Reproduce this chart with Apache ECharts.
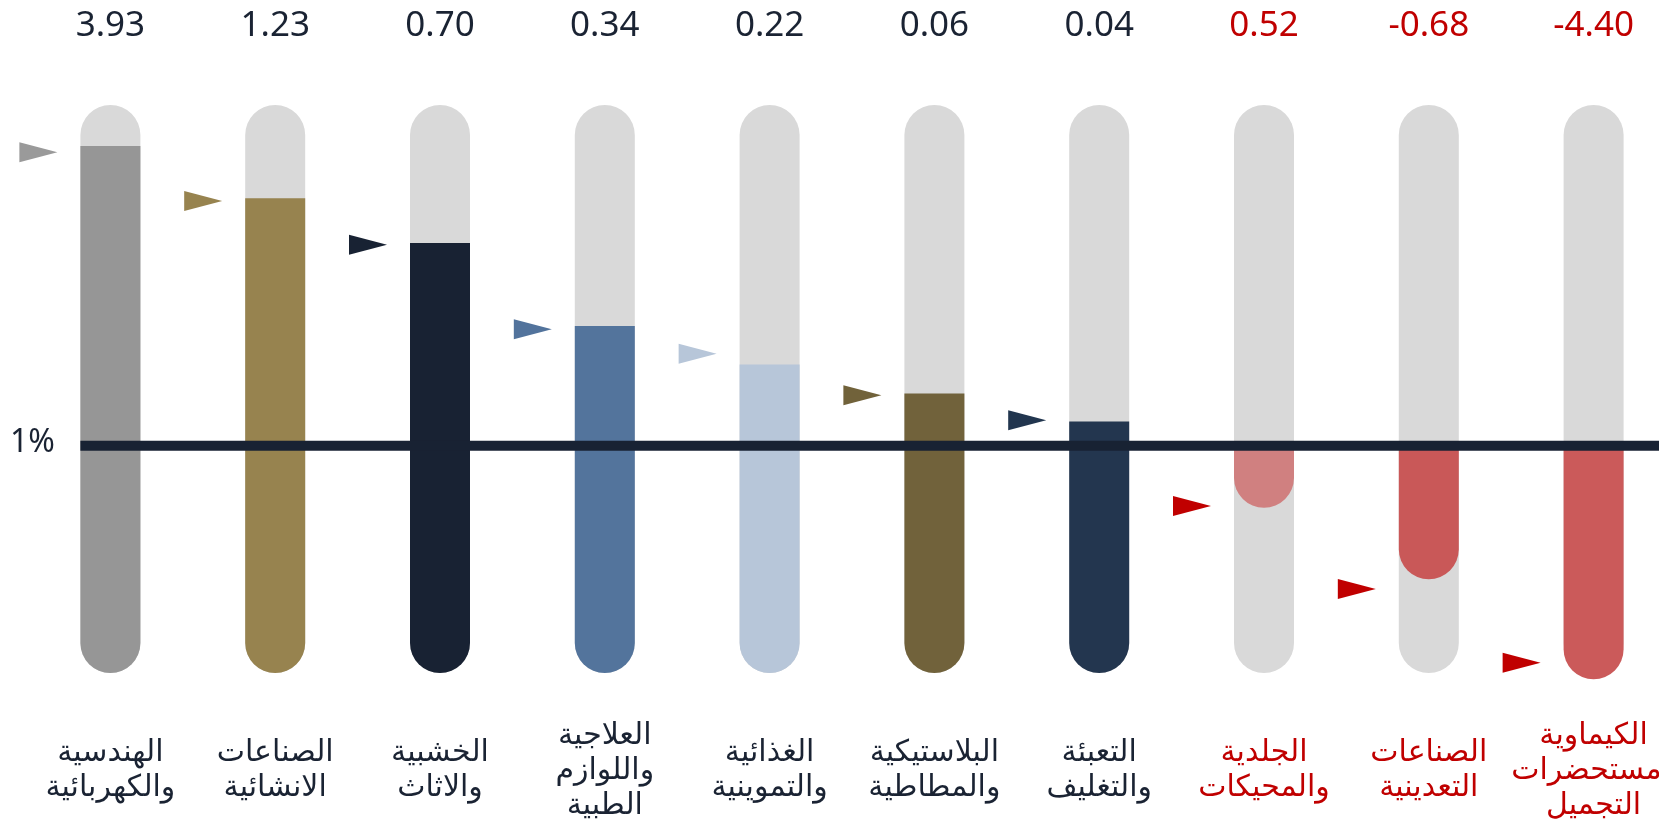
<!DOCTYPE html>
<html><head><meta charset="utf-8">
<script src="https://cdn.jsdelivr.net/npm/echarts@6/dist/echarts.min.js"></script>
<style>html,body{margin:0;padding:0;background:#fff}#c{width:1659px;height:827px}</style>
</head><body><div id="c"></div>
<script>
// ---- data ----
const categories = [
  'الهندسية\nوالكهربائية',
  'الصناعات\nالانشائية',
  'الخشبية\nوالاثاث',
  'العلاجية\nواللوازم\nالطبية',
  'الغذائية\nوالتموينية',
  'البلاستيكية\nوالمطاطية',
  'التعبئة\nوالتغليف',
  'الجلدية\nوالمحيكات',
  'الصناعات\nالتعدينية',
  'الكيماوية\nومستحضرات\nالتجميل'
];
const changeLabels = ['3.93', '1.23', '0.70', '0.34', '0.22', '0.06', '0.04', '0.52', '-0.68', '-4.40'];
const barValues = [6.28, 5.36, 4.57, 3.11, 2.43, 1.92, 1.43, -0.09, -1.35, -3.11];
const markerValues = [6.17, 5.31, 4.54, 3.05, 2.62, 1.89, 1.45, -0.06, -1.52, -2.82];
const redFlags = [false, false, false, false, false, false, false, true, true, true];
const baselineValue = 1;
const baselineLabel = '1%';
const axisMin = -3;
const axisMax = 7;

// ---- styles ----
const fillColors = ['#969696', '#97834f', '#182233', '#53749c', '#b7c6d9', '#71623b', '#23364f', '#d08080', '#c95858', '#cb5a5a'];
const markerColors = ['#9a9a9a', '#97834f', '#182233', '#52739c', '#b7c6d9', '#71623a', '#22364f', '#c00000', '#c00000', '#c00000'];
const TRACK = '#d9d9d9';
const DARK = '#1a2333';
const RED = '#c00000';
const LINE = '#182233';
const FONT = "'DejaVu Sans', 'Noto Sans Arabic', sans-serif";
const NUMFONT = "'Noto Sans', Roboto, sans-serif";
const BAR_W = 60;

const chart = echarts.init(document.getElementById('c'), null, {renderer: 'canvas'});

function renderBars(params, api) {
  const i = api.value(0), v = api.value(1);
  const cx = api.coord([i, 0])[0];
  const top = api.coord([i, axisMax])[1];
  const bottom = api.coord([i, axisMin])[1];
  const base = api.coord([i, baselineValue])[1];
  const vy = api.coord([i, v])[1];
  const half = BAR_W / 2;
  const children = [{
    type: 'rect',
    shape: {x: cx - half, y: top, width: BAR_W, height: bottom - top, r: half},
    style: {fill: TRACK}
  }];
  if (v >= baselineValue) {
    children.push({
      type: 'rect',
      shape: {x: cx - half, y: vy, width: BAR_W, height: bottom - vy, r: [0, 0, half, half]},
      style: {fill: fillColors[i]}
    });
  } else {
    children.push({
      type: 'rect',
      shape: {x: cx - half, y: base, width: BAR_W, height: vy - base, r: [0, 0, half, half]},
      style: {fill: fillColors[i]}
    });
  }
  return {type: 'group', children};
}

function renderMarkers(params, api) {
  const i = api.value(0), v = api.value(1);
  const p = api.coord([i, v]);
  const tip = p[0] - 53;
  return {
    type: 'polygon',
    shape: {points: [[tip - 38, p[1] - 10], [tip - 38, p[1] + 10], [tip, p[1]]]},
    style: {fill: markerColors[i]}
  };
}

function renderBaseline(params, api) {
  const p = api.coord([0, baselineValue]);
  const left = p[0] - BAR_W / 2;
  return {
    type: 'group',
    children: [{
      type: 'rect',
      shape: {x: left, y: p[1] - 5, width: api.getWidth() - left, height: 10},
      style: {fill: LINE}
    }, {
      type: 'text',
      style: {text: baselineLabel, x: 10, y: p[1] - 3, fill: DARK, font: '400 32px ' + NUMFONT, textAlign: 'left', textVerticalAlign: 'middle'}
    }]
  };
}

chart.setOption({
  animation: false,
  grid: {left: 110.4, width: 1483.2, top: 105, height: 568, outerBoundsMode: 'none', containLabel: false},
  xAxis: [{
    type: 'category',
    data: categories,
    position: 'bottom',
    boundaryGap: false,
    axisLine: {show: false}, axisTick: {show: false}, splitLine: {show: false},
    axisLabel: {
      interval: 0, margin: 98, verticalAlign: 'middle', align: 'center',
      fontSize: 30, lineHeight: 35, fontFamily: FONT, hideOverlap: false,
      color: (val, idx) => redFlags[idx] ? RED : DARK
    }
  }, {
    type: 'category',
    data: changeLabels,
    position: 'top',
    boundaryGap: false,
    axisLine: {show: false}, axisTick: {show: false}, splitLine: {show: false},
    axisLabel: {
      interval: 0, margin: 79, verticalAlign: 'middle', align: 'center',
      fontSize: 35, fontFamily: NUMFONT, hideOverlap: false,
      color: (val, idx) => redFlags[idx] ? RED : DARK
    }
  }],
  yAxis: {type: 'value', min: axisMin, max: axisMax, show: false, splitLine: {show: false}},
  series: [{
    type: 'custom', clip: false, z: 2,
    data: barValues.map((v, i) => [i, v]),
    encode: {x: 0, y: 1},
    renderItem: renderBars
  }, {
    type: 'custom', clip: false, z: 3,
    data: markerValues.map((v, i) => [i, v]),
    encode: {x: 0, y: 1},
    renderItem: renderMarkers
  }, {
    type: 'custom', clip: false, z: 4,
    data: [[0, baselineValue]],
    encode: {x: 0, y: 1},
    renderItem: renderBaseline
  }]
});
</script>
</body></html>
